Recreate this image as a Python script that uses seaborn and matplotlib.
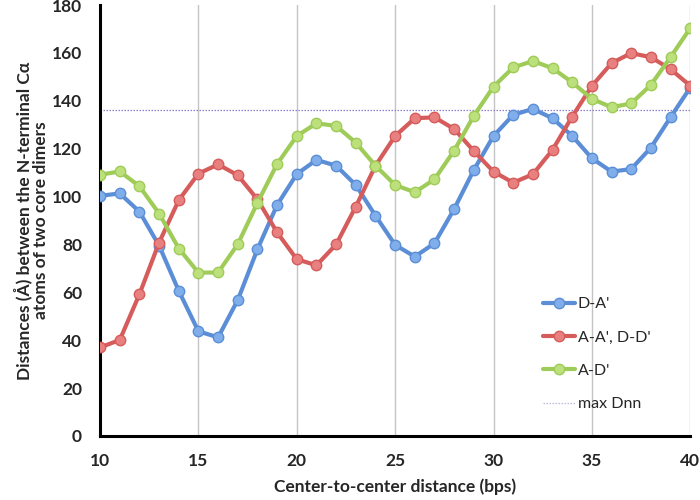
import numpy as np
import pandas as pd
import matplotlib
matplotlib.use("Agg")
import matplotlib.pyplot as plt
import seaborn as sns
from matplotlib.lines import Line2D

# data
bps = list(range(10, 41))
d_a = [100.3, 101.3, 93.7, 79.5, 60.6, 43.7, 41.2, 56.8, 78.0, 96.5,
       109.4, 115.3, 112.9, 104.8, 92.0, 79.8, 74.9, 80.5, 94.8, 111.1,
       125.3, 134.1, 136.6, 132.7, 125.3, 116.0, 110.4, 111.5, 120.4, 133.1,
       145.5]
a_a_d_d = [37.0, 40.1, 59.2, 80.8, 98.5, 109.6, 113.4, 108.9, 98.8, 85.0,
           73.8, 71.3, 80.0, 95.8, 112.9, 125.3, 132.7, 133.1, 128.2, 119.0,
           110.4, 105.8, 109.3, 119.5, 133.4, 146.2, 155.7, 159.9, 158.2, 153.2,
           146.3]
a_d = [109.1, 110.5, 104.3, 92.9, 78.3, 68.2, 68.3, 80.1, 97.4, 113.6,
       125.3, 130.6, 129.5, 122.5, 112.9, 104.8, 101.8, 107.2, 119.2, 133.7,
       145.9, 153.9, 156.6, 153.6, 147.7, 140.8, 137.3, 138.9, 146.6, 158.2,
       170.3]
max_dnn = 136.2

series_names = ["D-A'", "A-A', D-D'", "A-D'"]
line_colors = ["#5B8ED6", "#D65B5B", "#9FCC58"]
fill_colors = ["#80AEEA", "#E88080", "#BCE07C"]

df = pd.DataFrame({
    "bps": bps * 3,
    "dist": d_a + a_a_d_d + a_d,
    "pair": sum([[n] * len(bps) for n in series_names], []),
})

sns.set_style("white")
plt.rcParams["font.family"] = ["Lato", "DejaVu Sans"]
plt.rcParams["font.weight"] = "bold"

fig = plt.figure(figsize=(7, 5), dpi=100)
ax = fig.add_axes([0.143, 0.128, 0.843, 0.862])

# vertical grid only
ax.xaxis.grid(True, color="#C4C4C4", linewidth=1)
ax.yaxis.grid(False)
ax.set_axisbelow(True)

ax.axhline(max_dnn, color="#8A7FC8", linestyle=(0, (1.2, 1.2)), linewidth=0.9, zorder=1)

handles = []
for name, lc, fc in zip(series_names, line_colors, fill_colors):
    sub = df[df["pair"] == name]
    sns.lineplot(data=sub, x="bps", y="dist", ax=ax, color=lc, linewidth=3.0,
                 marker="o", markersize=7.5, markerfacecolor=fc,
                 markeredgecolor=lc, markeredgewidth=1.0, legend=False,
                 zorder=3)
    handles.append(Line2D([0], [0], color=lc, linewidth=3.0, marker="o",
                          markersize=7.5, markerfacecolor=fc, markeredgecolor=lc,
                          label=name))
handles.append(Line2D([0], [0], color="#B8B8D8", linestyle=(0, (1.2, 1.2)),
                      linewidth=0.9, label="max Dnn"))

ax.set_xlim(10, 40)
ax.set_ylim(0, 180)
ax.set_xticks(range(10, 41, 5))
ax.set_yticks(range(0, 181, 20))

for s in ["top", "right"]:
    ax.spines[s].set_visible(False)
for s in ["left", "bottom"]:
    ax.spines[s].set_color("black")
    ax.spines[s].set_linewidth(2.2)

ax.tick_params(axis="both", direction="out", length=6, width=2, color="black",
               labelsize=12.5, pad=7)
ax.tick_params(axis="x", pad=6)
for lab in ax.get_xticklabels() + ax.get_yticklabels():
    lab.set_fontweight("bold")

ax.set_xlabel("Center-to-center distance (bps)", fontsize=12.5, fontweight="bold", labelpad=7)
ax.set_ylabel("Distances (Å) between the N-terminal Cα\natoms of two core dimers",
              fontsize=12.5, fontweight="bold", labelpad=2, linespacing=1.05)

leg = ax.legend(handles=handles, loc="center left", bbox_to_anchor=(0.727, 0.19),
                frameon=False, fontsize=11.5, handlelength=2.0, handletextpad=0.15,
                labelspacing=1.2)
for t in leg.get_texts():
    t.set_fontweight("normal")

fig.savefig("out.png", dpi=100)
